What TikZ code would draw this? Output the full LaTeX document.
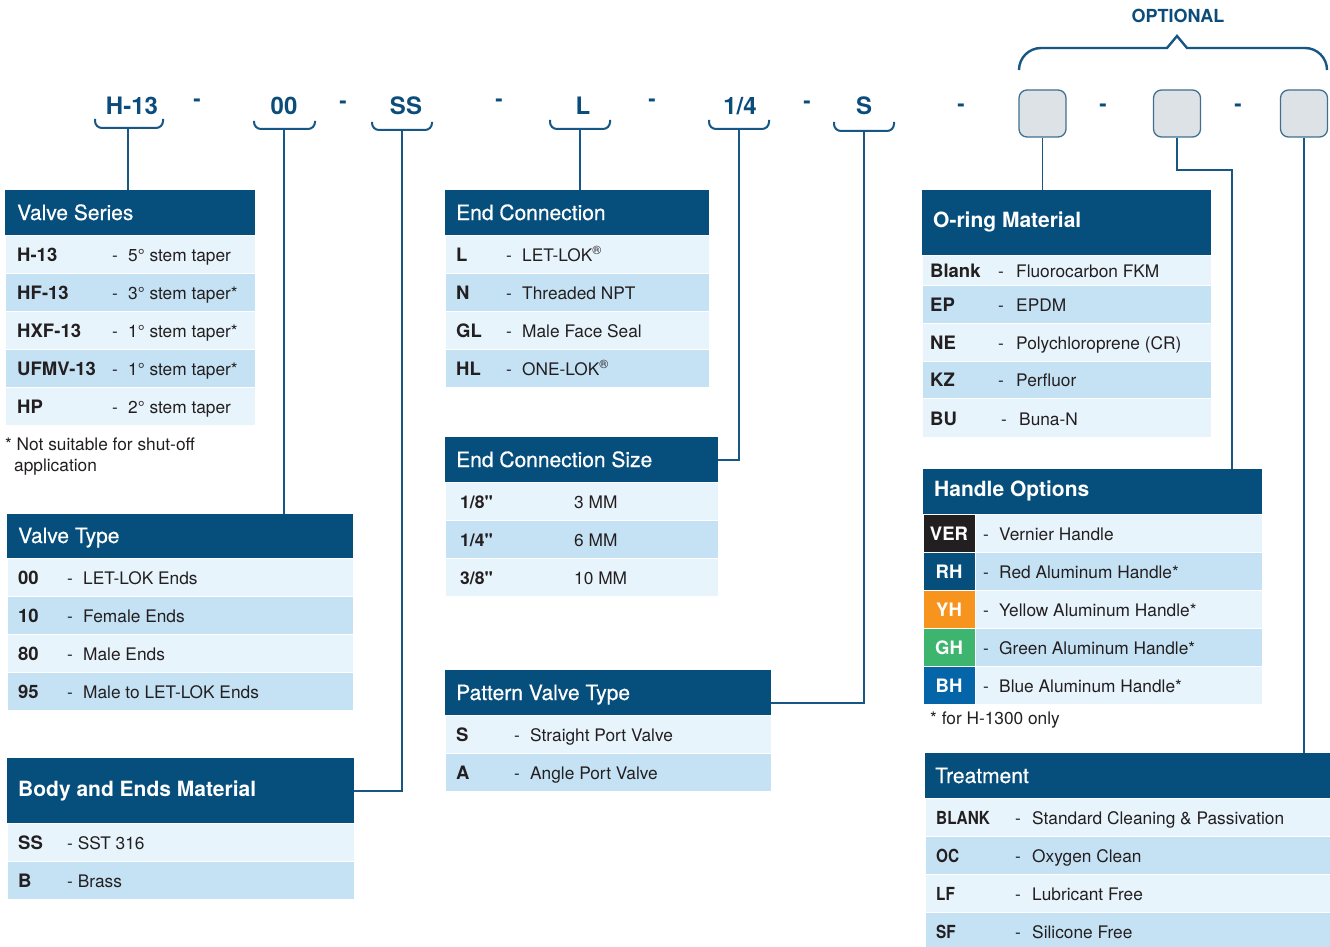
\documentclass[tikz,border=0pt]{standalone}
\usepackage{fontspec}
\setmainfont{TeX Gyre Heros}
\newfontfamily\condfam[FakeStretch=0.85]{TeX Gyre Heros}
\newfontfamily\medfam[FakeBold=0.5]{TeX Gyre Heros}
\newfontfamily\nomapfam[Ligatures=TeXOff]{TeX Gyre Heros}
\definecolor{hdr}{HTML}{064E7C}
\definecolor{rowA}{HTML}{E8F4FC}
\definecolor{rowB}{HTML}{C5E2F5}
\definecolor{txtc}{HTML}{231F20}
\definecolor{codeblue}{HTML}{0C4C7A}
\definecolor{linec}{HTML}{175785}
\definecolor{boxfill}{HTML}{DDE2E6}
\definecolor{boxdraw}{HTML}{41708F}
\definecolor{hver}{HTML}{231F20}
\definecolor{hrh}{HTML}{064E7C}
\definecolor{hyh}{HTML}{F7941D}
\definecolor{hgh}{HTML}{3DB56E}
\definecolor{hbh}{HTML}{0465A8}
\newcommand\myrowf{\fontsize{17.3}{20}\selectfont}
\newcommand\mylabf{\fontsize{18.5}{22}\selectfont\bfseries}
\newcommand\mytrlabf{\condfam\fontsize{18}{22}\selectfont\bfseries}
\newcommand\mytitf{\medfam\fontsize{21}{24}\selectfont}
\newcommand\mytitbf{\fontsize{21}{24}\selectfont\bfseries}
\newcommand\mycodef{\fontsize{24}{28}\selectfont\bfseries}
\newcommand\myinch{{\nomapfam\bfseries\symbol{34}}}
\begin{document}
\begin{tikzpicture}[x=1pt,y=-1pt,
  hdrbox/.style={fill=hdr, inner sep=0pt, anchor=north west},
  ttl/.style={anchor=base west, inner sep=0pt, text=white, font=\mytitf},
  ttlb/.style={anchor=base west, inner sep=0pt, text=white, font=\mytitbf},
  txt/.style={anchor=base west, inner sep=0pt, text=txtc, font=\myrowf},
  lab/.style={anchor=base west, inner sep=0pt, text=txtc, font=\mylabf},
  trlab/.style={anchor=base west, inner sep=0pt, text=txtc, font=\mytrlabf},
  code/.style={anchor=base, inner sep=0pt, text=codeblue, font=\mycodef},
  dsh/.style={anchor=base, inner sep=0pt, text=codeblue, font=\fontsize{22}{24}\selectfont\bfseries},
  brk/.style={draw=linec, line width=2pt, rounded corners=7pt},
  conn/.style={draw=linec, line width=1.7pt},
  obox/.style={fill=boxfill, draw=boxdraw, line width=1.3pt, rounded corners=8pt, minimum width=47pt, minimum height=47pt, inner sep=0pt},
  rowbox/.style={draw=white, line width=1pt}
]
\useasboundingbox (0,0) rectangle (1330,947);
\fill[white] (0,0) rectangle (1330,947);

% ---------- top code ----------
\node[code] (c1) at (132,114) {H-13};
\node[code] (c2) at (284,115) {00};
\node[code] (c3) at (406,115) {SS};
\node[code] (c4) at (583,114) {L};
\node[code] (c5) at (740,114) {1/4};
\node[code] (c6) at (864,114) {S};
\node[dsh] (d1) at (197,107) {-};
\node[dsh] (d2) at (343,109) {-};
\node[dsh] (d3) at (499,107) {-};
\node[dsh] (d4) at (652,107) {-};
\node[dsh] (d5) at (807,109) {-};
\node[dsh] (d6) at (961,112) {-};
\node[dsh] (d7) at (1103,112) {-};
\node[dsh] (d8) at (1238,112) {-};

\draw[brk] (95,119) -- (95,128) -- (163,128) -- (163,119);
\draw[brk] (254,121) -- (254,129) -- (315,129) -- (315,121);
\draw[brk] (372,122) -- (372,130) -- (432,130) -- (432,122);
\draw[brk] (550,120) -- (550,129) -- (610,129) -- (610,120);
\draw[brk] (709,120) -- (709,129) -- (769,129) -- (769,120);
\draw[brk] (834,122) -- (834,131) -- (894,131) -- (894,122);
\coordinate (b1) at (128,128);
\coordinate (b2) at (284,129);
\coordinate (b3) at (402,130);
\coordinate (b4) at (580,129);
\coordinate (b5) at (739,129);
\coordinate (b6) at (864,131);

\node[obox] (bx1) at (1042.5,113.5) {};
\node[obox] (bx2) at (1177,113.5) {};
\node[obox] (bx3) at (1304,113.5) {};

% OPTIONAL brace
\node[anchor=base, inner sep=0pt, text=codeblue, font=\fontsize{18}{20}\selectfont\bfseries] (opt) at (1178,23) {OPTIONAL};
\draw[draw=linec, line width=2.4pt] (1019,70) [rounded corners=22pt] -- (1019,48) -- (1100,48) [sharp corners] -- (1167,48) -- (1177,36) -- (1187,48) -- (1250,48) [rounded corners=22pt] -- (1327,48) -- (1327,70);

% ---------- Valve Series ----------
\node[hdrbox, minimum width=250pt, minimum height=45pt] (vsH) at (5,190) {};
\node[ttl] (vsT) at (17,220) {Valve Series};
\foreach \i/\c/\l/\t in {0/rowA/H-13/{5° stem taper},1/rowB/HF-13/{3° stem taper*},2/rowA/HXF-13/{1° stem taper*},3/rowB/UFMV-13/{1° stem taper*},4/rowA/HP/{2° stem taper}}{
  \path[rowbox, fill=\c] (5,235+38*\i) rectangle (255,273+38*\i);
  \node[lab] (vsL\i) at (17,261+38*\i) {\l};
  \node[txt] (vsD\i) at (112,261+38*\i) {-};
  \node[txt] (vsX\i) at (128,261+38*\i) {\t};
}
\node[txt] (vsF1) at (5,450) {* Not suitable for shut-off};
\node[txt] (vsF2) at (14,471) {application};

% ---------- Valve Type ----------
\node[hdrbox, minimum width=346pt, minimum height=44pt] (vtH) at (7,514) {};
\node[ttl] (vtT) at (18,543) {Valve Type};
\foreach \i/\c/\l/\t in {0/rowA/00/{LET-LOK Ends},1/rowB/10/{Female Ends},2/rowA/80/{Male Ends},3/rowB/95/{Male to LET-LOK Ends}}{
  \path[rowbox, fill=\c] (7,558+38*\i) rectangle (353,596+38*\i);
  \node[lab] (vtL\i) at (18,584+38*\i) {\l};
  \node[txt] (vtD\i) at (67,584+38*\i) {-};
  \node[txt] (vtX\i) at (83,584+38*\i) {\t};
}

% ---------- Body and Ends Material ----------
\node[hdrbox, minimum width=347pt, minimum height=65pt] (bmH) at (7,758) {};
\node[ttlb] (bmT) at (18,796) {Body and Ends Material};
\foreach \i/\c/\l/\t in {0/rowA/SS/{- SST 316},1/rowB/B/{- Brass}}{
  \path[rowbox, fill=\c] (7,823+38*\i) rectangle (354,861+38*\i);
  \node[lab] (bmL\i) at (18,849+38*\i) {\l};
  \node[txt] (bmX\i) at (67,849+38*\i) {\t};
}

% ---------- End Connection ----------
\node[hdrbox, minimum width=264pt, minimum height=45pt] (ecH) at (445,190) {};
\node[ttl] (ecT) at (456,220) {End Connection};
\foreach \i/\c/\l/\t in {0/rowA/L/{LET-LOK\textsuperscript{®}},1/rowB/N/{Threaded NPT},2/rowA/GL/{Male Face Seal},3/rowB/HL/{ONE-LOK\textsuperscript{®}}}{
  \path[rowbox, fill=\c] (445,235+38*\i) rectangle (709,273+38*\i);
  \node[lab] (ecL\i) at (456,261+38*\i) {\l};
  \node[txt] (ecD\i) at (506,261+38*\i) {-};
  \node[txt] (ecX\i) at (522,261+38*\i) {\t};
}

% ---------- End Connection Size ----------
\node[hdrbox, minimum width=273pt, minimum height=45pt] (esH) at (445,437) {};
\node[ttl] (esT) at (456,467) {End Connection Size};
\foreach \i/\c/\l/\t in {0/rowA/{1/8\myinch}/{3 MM},1/rowB/{1/4\myinch}/{6 MM},2/rowA/{3/8\myinch}/{10 MM}}{
  \path[rowbox, fill=\c] (445,482+38*\i) rectangle (718,520+38*\i);
  \node[lab, font=\fontsize{17.5}{20}\selectfont\bfseries] (esL\i) at (460,508+38*\i) {\l};
  \node[txt] (esX\i) at (574,508+38*\i) {\t};
}

% ---------- Pattern Valve Type ----------
\node[hdrbox, minimum width=326pt, minimum height=45pt] (pvH) at (445,670) {};
\node[ttl] (pvT) at (456,700) {Pattern Valve Type};
\foreach \i/\c/\l/\t in {0/rowA/S/{Straight Port Valve},1/rowB/A/{Angle Port Valve}}{
  \path[rowbox, fill=\c] (445,715+38*\i) rectangle (771,753+38*\i);
  \node[lab] (pvL\i) at (456,741+38*\i) {\l};
  \node[txt] (pvD\i) at (514,741+38*\i) {-};
  \node[txt] (pvX\i) at (530,741+38*\i) {\t};
}

% ---------- O-ring Material ----------
\node[hdrbox, minimum width=289pt, minimum height=65pt] (orH) at (922,190) {};
\node[ttlb] (orT) at (933,227) {O-ring Material};
\path[rowbox, fill=rowA] (922,255) rectangle (1211,285);
\path[rowbox, fill=rowB] (922,285) rectangle (1211,323);
\path[rowbox, fill=rowA] (922,323) rectangle (1211,361);
\path[rowbox, fill=rowB] (922,361) rectangle (1211,398);
\path[rowbox, fill=rowA] (922,398) rectangle (1211,437);
\node[lab] (orL0) at (930,277) {Blank};
\node[txt] (orD0) at (998,277) {-};
\node[txt] (orX0) at (1016,277) {Fluorocarbon FKM};
\node[lab] (orL1) at (930,311) {EP};
\node[txt] (orD1) at (998,311) {-};
\node[txt] (orX1) at (1016,311) {EPDM};
\node[lab] (orL2) at (930,349) {NE};
\node[txt] (orD2) at (998,349) {-};
\node[txt] (orX2) at (1016,349) {Polychloroprene (CR)};
\node[lab] (orL3) at (930,386.5) {KZ};
\node[txt] (orD3) at (998,386.5) {-};
\node[txt] (orX3) at (1016,386.5) {Perfluor};
\node[lab] (orL4) at (930,425) {BU};
\node[txt] (orD4) at (1001,425) {-};
\node[txt] (orX4) at (1019,425) {Buna-N};

% ---------- Handle Options ----------
\node[hdrbox, minimum width=339pt, minimum height=45pt] (hoH) at (923,469) {};
\node[ttlb] (hoT) at (934,496) {Handle Options};
\foreach \i/\cc/\c/\l/\t in {0/hver/rowA/VER/{Vernier Handle},1/hrh/rowB/RH/{Red Aluminum Handle*},2/hyh/rowA/YH/{Yellow Aluminum Handle*},3/hgh/rowB/GH/{Green Aluminum Handle*},4/hbh/rowA/BH/{Blue Aluminum Handle*}}{
  \path[rowbox, fill=\c] (975,514+38*\i) rectangle (1262,552+38*\i);
  \path[rowbox, fill=\cc] (923,514+38*\i) rectangle (975,552+38*\i);
  \node[anchor=base, inner sep=0pt, text=white, font=\mylabf] (hoL\i) at (949,540+38*\i) {\l};
  \node[txt] (hoD\i) at (983,540+38*\i) {-};
  \node[txt] (hoX\i) at (999,540+38*\i) {\t};
}
\node[txt] (hoF) at (930,724) {* for H-1300 only};

% ---------- Treatment ----------
\node[hdrbox, minimum width=405pt, minimum height=45pt] (trH) at (925,753) {};
\node[ttl] (trT) at (935,783) {Treatment};
\foreach \i/\c/\l/\t in {0/rowA/BLANK/{Standard Cleaning \& Passivation},1/rowB/OC/{Oxygen Clean},2/rowA/LF/{Lubricant Free},3/rowB/SF/{Silicone Free}}{
  \path[rowbox, fill=\c] (925,798+38*\i) rectangle (1331,836+38*\i);
  \node[trlab] (trL\i) at (936,824+38*\i) {\l};
  \node[txt] (trD\i) at (1015,824+38*\i) {-};
  \node[txt] (trX\i) at (1032,824+38*\i) {\t};
}

% ---------- connectors ----------
\draw[conn] (b1) -- (b1 |- vsH.north);
\draw[conn] (b2) -- (b2 |- vtH.north);
\draw[conn] (b3) |- (bmH.east);
\draw[conn] (b4) -- (b4 |- ecH.north);
\draw[conn] (b5) |- (esH.east);
\draw[conn] (b6) |- ([yshift=-10.5pt]pvH.east);
\draw[conn] (bx1.south) -- (bx1.south |- orH.north);
\coordinate (k2) at (1232,170);
\draw[conn] (bx2.south) |- (k2) -- (k2 |- hoH.north);
\draw[conn] (bx3.south) -- (bx3.south |- trH.north);
\end{tikzpicture}
\end{document}
